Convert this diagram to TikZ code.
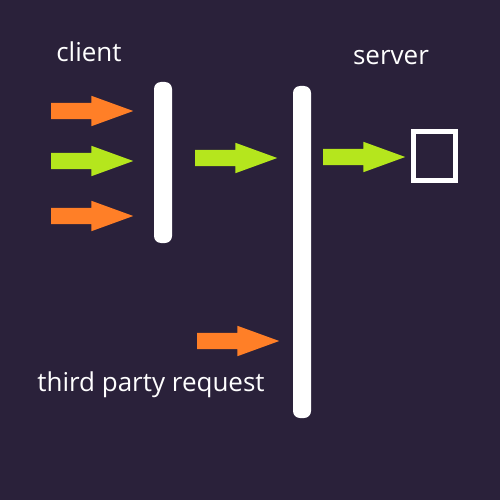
\documentclass[tikz,border=0pt]{standalone}
\usepackage{fontspec}
\setmainfont{Open Sans}
\usetikzlibrary{positioning,shapes.arrows}
\definecolor{bgnight}{HTML}{2A213A}
\definecolor{reqorange}{HTML}{FF7F27}
\definecolor{reqlime}{HTML}{B5E61D}

\begin{document}
\begin{tikzpicture}[
  x=1pt, y=-1pt,
  gate/.style={
    rectangle, fill=white, rounded corners=7pt, inner sep=0pt,
    minimum width=18pt
  },
  req/.style={
    single arrow, inner sep=8pt, single arrow head extend=7pt,
    single arrow tip angle=40, minimum height=82pt, anchor=west
  },
  bad/.style={req, fill=reqorange},
  good/.style={req, fill=reqlime},
  lbl/.style={text=white, inner sep=0pt, anchor=base,
    font=\fontsize{26}{30}\selectfont},
]
  \fill[bgnight] (0,0) rectangle (500,500);
  \useasboundingbox (0,0) rectangle (500,500);

  \node[gate, minimum height=161pt] (gate1) at (163,162.5) {};
  \node[gate, minimum height=332pt] (gate2) at (302,252) {};
  \node[draw=white, line width=5pt, inner sep=0pt,
    minimum width=42pt, minimum height=49pt] (target) at (434.5,156) {};

  \node[bad] (in1) at (51,111) {};
  \node[good] (in2) at (51,161) {};
  \node[bad] (in3) at (51,216) {};
  \node[good] (pass1) at (195,158) {};
  \node[good] (pass2) at (323,157) {};
  \node[bad] (third) at (197,341) {};

  \node[lbl] (client) at (89,62) {client};
  \node[lbl] (server) at (391,65) {server};
  \node[lbl] (thirdlbl) at (151,391) {third party request};
\end{tikzpicture}
\end{document}
